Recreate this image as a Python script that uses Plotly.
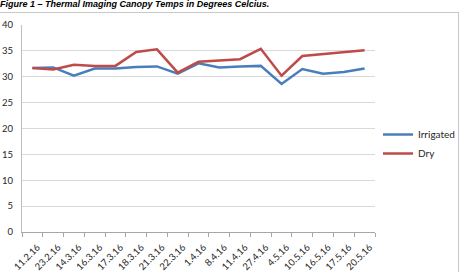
import plotly.graph_objects as go

dates = ["11.2.16", "23.2.16", "14.3.16", "16.3.16", "17.3.16", "18.3.16", "21.3.16",
         "22.3.16", "1.4.16", "8.4.16", "11.4.16", "27.4.16", "4.5.16", "10.5.16",
         "16.5.16", "17.5.16", "20.5.16"]
irrigated = [31.7, 31.8, 30.2, 31.6, 31.6, 31.9, 32.0, 30.6, 32.6, 31.8, 32.0, 32.1,
             28.6, 31.5, 30.6, 30.9, 31.6]
dry = [31.7, 31.4, 32.3, 32.1, 32.1, 34.8, 35.3, 30.8, 32.9, 33.2, 33.4, 35.4,
       30.2, 34.0, 34.4, 34.8, 35.1]
y_ticks = [0, 5, 10, 15, 20, 25, 30, 35, 40]
title_text = "Figure 1 \u2013 Thermal Imaging Canopy Temps in Degrees Celcius."

W, H = 461, 272
L, R, T, B = 22, 86, 25, 40
pw, ph = W - L - R, H - T - B


def px_x(p):
    return (p - L) / pw


def px_y(p):
    return (H - B - p) / ph


FONT = "Lato"
fig = go.Figure()
fig.add_trace(go.Scatter(x=dates, y=irrigated, mode="lines", name="Irrigated",
                         line=dict(color="#4A7EBB", width=2.5)))
fig.add_trace(go.Scatter(x=dates, y=dry, mode="lines", name="Dry",
                         line=dict(color="#BE4B48", width=2.5)))

fig.update_layout(
    width=W, height=H,
    margin=dict(l=L, r=R, t=T, b=B, pad=0, autoexpand=False),
    paper_bgcolor="white", plot_bgcolor="white",
    font=dict(family=FONT, size=10, color="#262626"),
    showlegend=True,
    legend=dict(x=px_x(378), xanchor="left", y=px_y(120), yanchor="top",
                bgcolor="rgba(0,0,0,0)", font=dict(family=FONT, size=10, color="#262626"),
                itemwidth=30),
    xaxis=dict(type="category", range=[-0.5, len(dates) - 0.5], showgrid=False,
               showline=True, linecolor="#A6A6A6", linewidth=1,
               ticks="outside", tickson="boundaries", ticklen=4, tickcolor="#A6A6A6",
               tickangle=-45, tickfont=dict(family=FONT, size=9.5, color="#262626"),
               ticklabelstandoff=5, ticklabelshift=5, automargin=False,
               zeroline=False, fixedrange=True),
    yaxis=dict(range=[0, 40], tickvals=y_ticks, showgrid=True, gridcolor="#D9D9D9",
               gridwidth=1, showline=True, linecolor="#BFBFBF", linewidth=1,
               ticks="outside", ticklen=6, tickcolor="rgba(0,0,0,0)",
               tickfont=dict(family=FONT, size=9.5, color="#262626"), automargin=False,
               zeroline=False, fixedrange=True),
    annotations=[
        dict(text=" ", xref="paper", yref="paper",
             x=px_x(-10), y=px_y(12), xanchor="left", yanchor="top",
             width=467, height=300, borderpad=0, borderwidth=1,
             bordercolor="#C8C8C8", bgcolor="rgba(0,0,0,0)", showarrow=False),
        dict(text="<b><i>" + title_text + "</i></b>", xref="paper", yref="paper",
             x=px_x(-2), y=px_y(-3), xanchor="left", yanchor="top",
             showarrow=False,
             font=dict(family="Liberation Sans", size=9, color="#000000")),
    ],
)

fig.write_html("out.html")
